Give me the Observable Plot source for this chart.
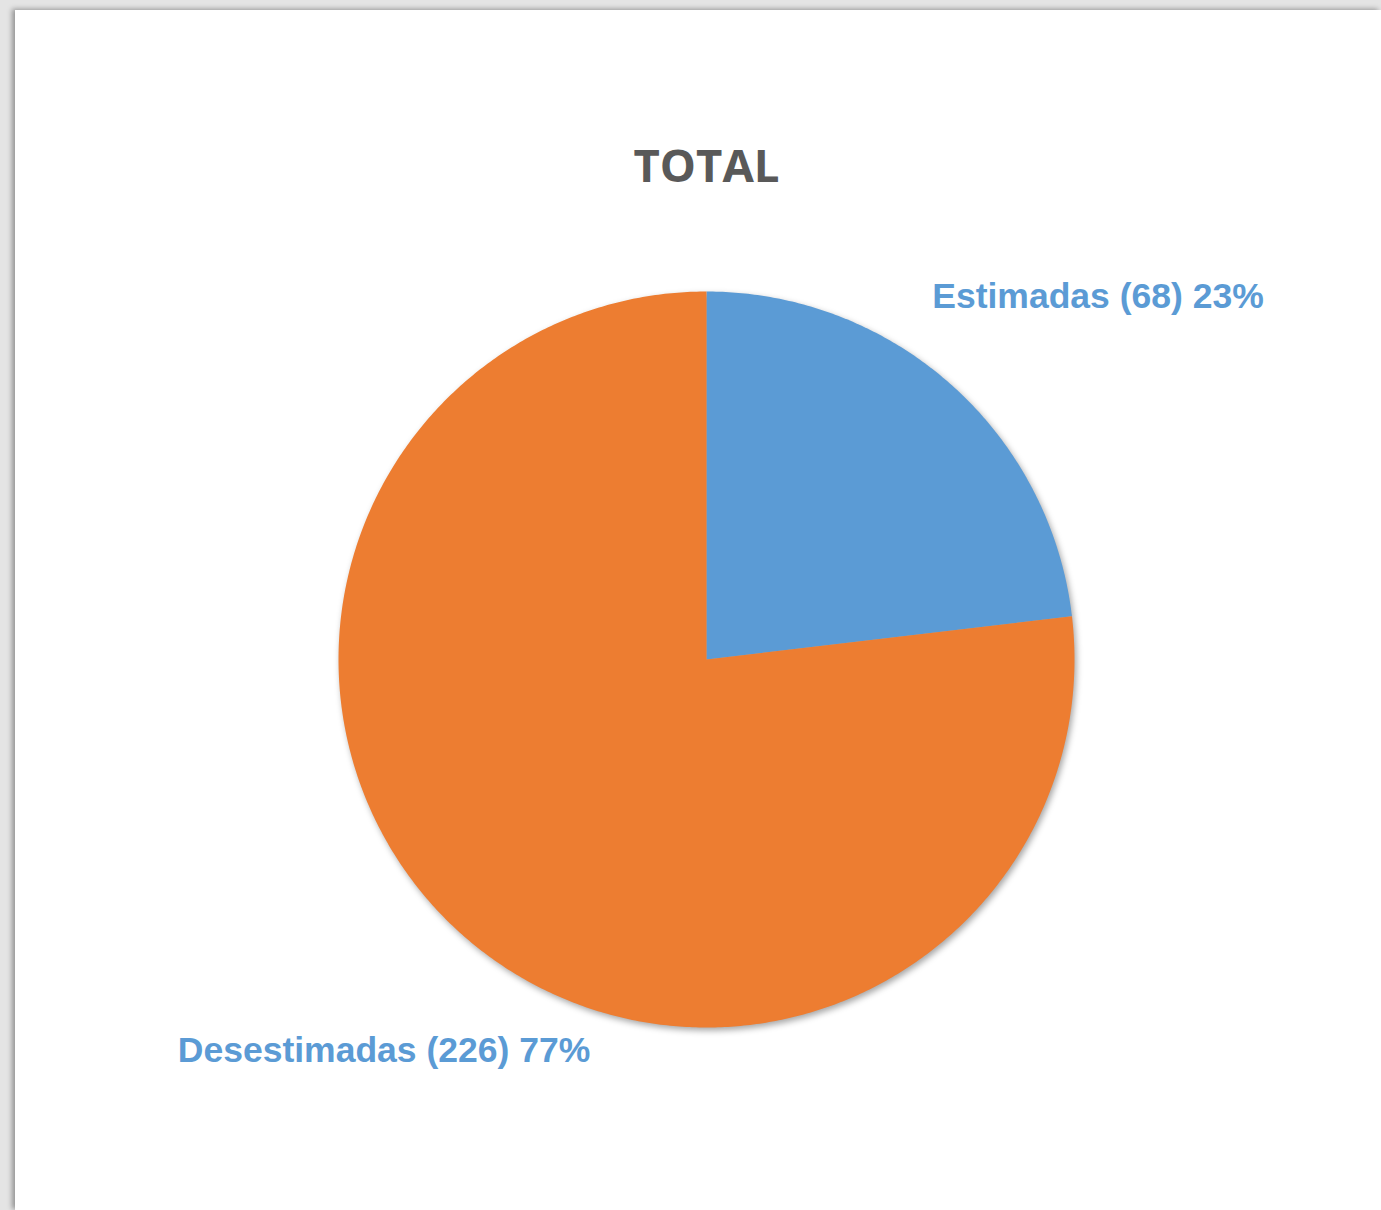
<!DOCTYPE html>
<html>
<head>
<meta charset="utf-8">
<script src="https://cdn.jsdelivr.net/npm/d3@7"></script>
<script src="https://cdn.jsdelivr.net/npm/@observablehq/plot@0.6"></script>
<style>
  html, body { margin: 0; padding: 0; background: #e4e4e4; width: 1381px; height: 1210px; overflow: hidden; }
  #paper { position: absolute; left: 15px; top: 10px; right: 0; bottom: 0; background: #ffffff;
           box-shadow: -3px -1px 5px rgba(0,0,0,0.35); }
  #chart { position: absolute; left: 0; top: 0; }
</style>
</head>
<body>
<div id="paper"></div>
<div id="chart"></div>
<script>
const title = "TOTAL";
const categories = ["Estimadas", "Desestimadas"];
const counts = [68, 226];
const percentLabels = ["23%", "77%"];
const colors = ["#5b9bd5", "#ed7d31"];

const total = d3.sum(counts);
// build slice outlines from the data (start at 12 o'clock, clockwise)
const slices = [];
const labels = [];
let acc = 0;
categories.forEach((name, i) => {
  const a0 = acc / total * 2 * Math.PI;
  acc += counts[i];
  const a1 = acc / total * 2 * Math.PI;
  const steps = Math.max(8, Math.ceil((a1 - a0) / (2 * Math.PI) * 720));
  slices.push({name, x: 0, y: 0});
  for (let s = 0; s <= steps; s++) {
    const a = a0 + (a1 - a0) * s / steps;
    slices.push({name, x: Math.sin(a), y: Math.cos(a)});
  }
  slices.push({name, x: 0, y: 0});
  const am = (a0 + a1) / 2;
  labels.push({name, text: `${name} (${counts[i]}) ${percentLabels[i]}`, x: Math.sin(am), y: Math.cos(am)});
});

const labelOffset = {Estimadas: [147, -88], Desestimadas: [-78, 116]};
const labelFont = {fill: "#5b9bd5", fontSize: 35.5, fontWeight: "bold",
  fontFamily: "Liberation Sans, Arial, sans-serif", textAnchor: "middle", lineAnchor: "middle"};

const plot = Plot.plot({
  width: 1381,
  height: 1210,
  marginLeft: 338,
  marginRight: 307,
  marginTop: 291,
  marginBottom: 183,
  x: {domain: [-1, 1], axis: null},
  y: {domain: [-1, 1], axis: null},
  color: {domain: categories, range: colors},
  style: {background: "transparent", overflow: "visible"},
  marks: [
    Plot.line(slices, {x: "x", y: "y", z: "name", fill: "name", stroke: "none", curve: "linear"}),
    Plot.text(labels.filter(d => d.name === "Estimadas"), {
      x: "x", y: "y", text: "text", dx: labelOffset.Estimadas[0], dy: labelOffset.Estimadas[1], ...labelFont
    }),
    Plot.text(labels.filter(d => d.name === "Desestimadas"), {
      x: "x", y: "y", text: "text", dx: labelOffset.Desestimadas[0], dy: labelOffset.Desestimadas[1], ...labelFont
    }),
    Plot.text([title], {
      frameAnchor: "top", text: d => d, dy: -124, lineAnchor: "middle",
      fill: "#595959", fontSize: 45.5, fontWeight: "bold", fontFamily: "Open Sans, sans-serif"
    })
  ]
});
const pie = plot.querySelector('g[aria-label="line"]');
if (pie) pie.style.filter = "drop-shadow(2px 3px 3px rgba(0,0,0,0.35))";
document.getElementById("chart").appendChild(plot);
</script>
</body>
</html>
